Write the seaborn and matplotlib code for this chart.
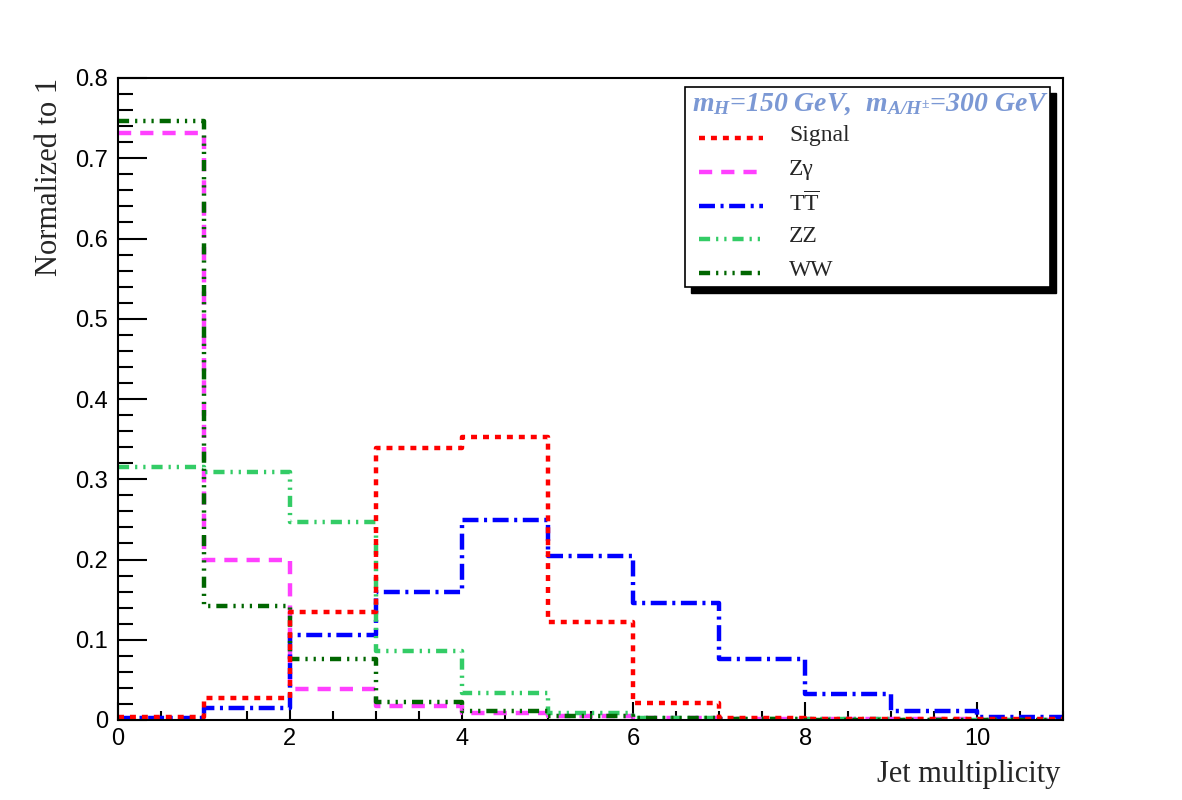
import numpy as np
import pandas as pd
import matplotlib
matplotlib.use("Agg")
import matplotlib.pyplot as plt
from matplotlib.patches import Rectangle
from matplotlib.lines import Line2D
import seaborn as sns

# ---------------- data ----------------
bin_edges = list(range(0, 12))
signal = [0.004, 0.027, 0.135, 0.339, 0.353, 0.122, 0.021, 0.002, 0.001, 0.001, 0.001]
zgamma = [0.732, 0.200, 0.039, 0.018, 0.009, 0.005, 0.002, 0.001, 0.001, 0.001, 0.0005]
ttbar = [0.002, 0.015, 0.106, 0.160, 0.249, 0.204, 0.146, 0.076, 0.032, 0.011, 0.004]
zz = [0.315, 0.309, 0.247, 0.086, 0.034, 0.009, 0.003, 0.001, 0.001, 0.0005, 0.0005]
ww = [0.746, 0.142, 0.076, 0.023, 0.011, 0.005, 0.002, 0.001, 0.0005, 0.0005, 0.0005]
labels = ["Signal", "Zγ", r"T$\overline{\mathrm{T}}$", "ZZ", "WW"]
header = r"$\mathbf{m_{H}}$=150 GeV,  $\mathbf{m_{A/H^{\pm}}}$=300 GeV"
xlabel = "Jet multiplicity"
ylabel = "Normalized to 1"
yticks = [0, 0.1, 0.2, 0.3, 0.4, 0.5, 0.6, 0.7, 0.8]
yticklabels = ["0", "0.1", "0.2", "0.3", "0.4", "0.5", "0.6", "0.7", "0.8"]
xticks = [0, 2, 4, 6, 8, 10]

# ---------------- style ----------------
sns.set_style("ticks")
plt.rcParams["font.family"] = ["Liberation Sans", "DejaVu Sans"]
plt.rcParams["mathtext.fontset"] = "custom"
plt.rcParams["mathtext.rm"] = "Liberation Serif"
plt.rcParams["mathtext.it"] = "Liberation Serif:italic"
plt.rcParams["mathtext.bf"] = "Liberation Serif:bold:italic"
plt.rcParams["lines.scale_dashes"] = False

centers = [e + 0.5 for e in bin_edges[:-1]]
series = {
    "Signal": signal,
    "Zgamma": zgamma,
    "TT": ttbar,
    "ZZ": zz,
    "WW": ww,
}
df = pd.DataFrame(
    [(name, c, v) for name, vals in series.items() for c, v in zip(centers, vals)],
    columns=["process", "x", "w"],
)

styles = {
    "Signal": dict(color="#ff0000", ls=(0, (4.3, 4.3))),
    "Zgamma": dict(color="#ff40ff", ls=(0, (9.5, 6.5))),
    "TT": dict(color="#0000ff", ls=(0, (11.5, 4.0, 2.2, 4.0))),
    "ZZ": dict(color="#33cc66", ls=(0, (8.0, 4.3, 1.6, 4.3, 1.6, 4.3))),
    "WW": dict(color="#006600", ls=(0, (8.0, 4.3, 1.6, 4.3, 1.6, 4.3, 1.6, 4.3))),
}
lw = 3.2

fig = plt.figure(figsize=(11.82, 8.0), dpi=100)
ax = fig.add_axes([118 / 1182, 80 / 800, 945 / 1182, 642 / 800])

draw_order = ["Zgamma", "TT", "ZZ", "WW", "Signal"]
for name in draw_order:
    sub = df[df["process"] == name]
    sns.histplot(
        data=sub, x="x", weights="w", bins=bin_edges, element="step",
        fill=False, ax=ax, color=styles[name]["color"],
        linestyle=styles[name]["ls"], linewidth=lw,
    )

ax.set_xlim(0, 11)
ax.set_ylim(0, 0.8)
ax.set_yticks(yticks)
ax.set_yticklabels(yticklabels)
ax.set_xticks(xticks)
ax.set_xticks(np.arange(0, 11.01, 0.5), minor=True)
ax.set_yticks(np.arange(0, 0.801, 0.02), minor=True)
ax.tick_params(axis="both", which="both", direction="in", colors="black",
               labelsize=17, width=1.5, top=False, right=False)
ax.tick_params(axis="y", which="major", length=21, pad=7)
ax.tick_params(axis="y", which="minor", length=10.5)
ax.tick_params(axis="x", which="major", length=13, pad=6)
ax.tick_params(axis="x", which="minor", length=6.5)
for sp in ax.spines.values():
    sp.set_linewidth(1.5)
    sp.set_color("black")

ax.set_xlabel(xlabel, fontsize=22, family="Liberation Serif", loc="right")
ax.set_ylabel(ylabel, fontsize=22, family="Liberation Serif", loc="top")
ax.xaxis.set_label_coords(1 - 3 / 945, -0.062)
ax.yaxis.set_label_coords(-0.057, 1.0)

# ---------------- legend box ----------------
W, H = 1182.0, 800.0
def fx(px):
    return px / W
def fy(py):
    return 1 - py / H

shadow = Rectangle((fx(691), fy(293)), fx(1056) - fx(691), fy(93) - fy(293),
                   transform=fig.transFigure, facecolor="black", edgecolor="black",
                   zorder=10, clip_on=False)
box = Rectangle((fx(685), fy(287)), fx(1050) - fx(685), fy(87) - fy(287),
                transform=fig.transFigure, facecolor="white", edgecolor="black",
                linewidth=1.2, zorder=11, clip_on=False)
fig.patches.extend([shadow, box])

fig.text(fx(870), fy(104), header, ha="center", va="center", fontsize=20,
         color="#7b98d4", zorder=12, family="Liberation Serif",
         weight="bold", style="italic")

entry_names = ["Signal", "Zgamma", "TT", "ZZ", "WW"]
entry_y = [138, 172, 206, 239, 273]
for name, lab, yy in zip(entry_names, labels, entry_y):
    ln = Line2D([fx(699), fx(763)], [fy(yy), fy(yy)], transform=fig.transFigure,
                color=styles[name]["color"], linestyle=styles[name]["ls"],
                linewidth=lw, zorder=12)
    fig.lines.append(ln)
    fig.text(fx(789), fy(yy - 2), lab, ha="left", va="center", fontsize=17,
             family="Liberation Serif", zorder=12)

fig.savefig("out.png", dpi=100, facecolor="white")
